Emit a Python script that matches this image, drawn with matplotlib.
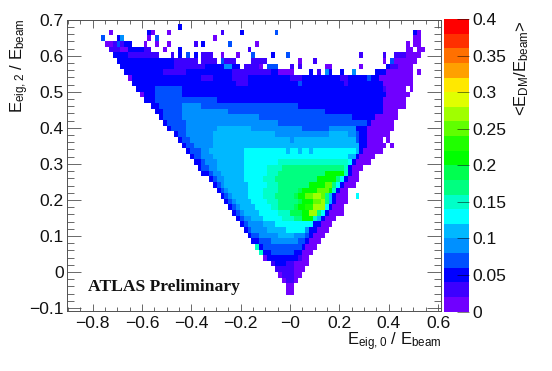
import numpy as np
import matplotlib
matplotlib.use("Agg")
import matplotlib.pyplot as plt
from matplotlib.colors import ListedColormap, BoundaryNorm
from matplotlib.ticker import MultipleLocator

plt.rcParams['font.family'] = ['Liberation Sans', 'DejaVu Sans']
plt.rcParams['mathtext.fontset'] = 'custom'
plt.rcParams['mathtext.rm'] = 'Liberation Sans'
plt.rcParams['mathtext.default'] = 'regular'

# colour levels of the z axis, 0.02 wide each
level_colors = ['#7000ff', '#3c00ff', '#0000ff', '#0050ff', '#0090ff', '#00b8ff', '#00ffff',
                '#00ffc8', '#00ff80', '#00ff50', '#00ff00', '#20ff00', '#60ff00', '#a0ff00',
                '#e0ff00', '#ffe800', '#ffa000', '#ff7000', '#ff3000', '#ff0000']
bin_width = 2 / 128
z_ticks = [0, 0.05, 0.1, 0.15, 0.2, 0.25, 0.3, 0.35, 0.4]
z_labels = ['0', '0.05', '0.1', '0.15', '0.2', '0.25', '0.3', '0.35', '0.4']
x_ticks = [-0.8, -0.6, -0.4, -0.2, 0, 0.2, 0.4, 0.6]
x_labels = ['\u22120.8', '\u22120.6', '\u22120.4', '\u22120.2', '\u22120', '0.2', '0.4', '0.6']
y_ticks = [-0.1, 0, 0.1, 0.2, 0.3, 0.4, 0.5, 0.6, 0.7]
y_labels = ['\u22120.1', '0', '0.1', '0.2', '0.3', '0.4', '0.5', '0.6', '0.7']

# one entry per y bin, bottom up: first bin, then level:end_bin runs (-1 is an empty bin)
row_first = -4
rows = [
    "-1 0:1",
    "-1 0:1",
    "-2 0:-1 1:1 0:2",
    "-3 0:-2 1:1 0:3",
    "-4 1:1 0:4",
    "-5 1:-4 2:-1 1:1 0:5",
    "-7 0:-6 2:2 1:3 0:5",
    "-8 7:-7 2:-5 3:1 2:3 0:6",
    "-9 7:-8 2:-7 3:3 2:4 0:7",
    "-10 2:-8 3:-5 4:2 3:4 2:5 0:8",
    "-11 2:-10 3:-8 4:-3 5:1 4:4 3:5 2:6 0:9",
    "-12 2:-11 3:-10 4:-6 5:-1 6:4 4:5 2:7 0:10",
    "-13 2:-12 3:-11 4:-7 5:-4 6:6 2:8 0:11",
    "-14 2:-13 3:-12 4:-10 5:-7 6:-2 7:1 8:3 10:6 7:7 5:8 2:9 0:12",
    "-15 2:-14 3:-13 4:-12 5:-8 6:-3 7:0 9:3 10:5 13:7 8:8 6:9 2:10 0:14",
    "-16 2:-15 3:-14 4:-13 5:-9 6:-5 7:-3 8:1 9:2 10:4 11:6 13:9 6:10 2:11 0:14",
    "-17 2:-16 3:-15 4:-14 5:-10 6:-6 7:-3 8:2 9:3 10:6 12:8 13:9 8:10 5:11 2:12 0:15",
    "-18 2:-17 3:-16 4:-15 5:-11 6:-7 7:-4 8:1 9:2 10:4 12:6 13:8 12:9 8:10 5:11 2:12 0:15 -1:17 6:18",
    "-19 2:-18 3:-17 4:-16 5:-11 6:-7 7:-3 8:2 9:3 10:7 12:10 10:11 7:12 2:13 0:15",
    "-20 2:-19 3:-18 4:-17 5:-11 6:-6 7:-3 8:5 10:9 12:11 8:12 6:13 2:14 0:17",
    "-21 2:-20 3:-19 4:-17 5:-12 6:-7 7:-4 8:7 10:12 8:13 6:14 2:15 0:18",
    "-23 2:-21 3:-20 4:-18 5:-12 6:-6 7:-3 8:9 10:14 7:15 2:16 0:18",
    "-24 2:-23 3:-21 4:-19 5:-12 6:-6 7:-2 8:14 7:15 2:16 0:19",
    "-25 2:-23 3:-22 4:-19 5:-12 6:-3 7:15 6:16 2:17 0:21",
    "-26 2:-25 3:-23 4:-20 5:-12 6:15 5:17 2:18 0:22",
    "-27 2:-26 3:-23 4:-21 5:-12 6:-1 5:0 6:2 5:3 6:5 5:6 6:17 5:18 2:19 0:24",
    "-28 2:-27 3:-25 4:-20 5:18 2:20 0:25 -1:26 0:27",
    "-29 2:-28 3:-26 4:-20 5:0 4:1 5:17 3:18 2:20 0:24 -1:25 0:26",
    "-30 2:-29 3:-27 4:-20 5:-4 4:10 5:15 4:17 3:18 2:20 0:26",
    "-32 2:-31 3:-27 4:-19 5:-10 4:3 3:10 4:17 2:20 0:27",
    "-33 2:-32 3:-27 4:-3 3:12 3:20 2:21 0:27",
    "-34 2:-33 3:-28 4:-8 3:16 2:22 0:28",
    "-35 2:-33 3:-28 4:-16 3:9 2:24 0:28",
    "-36 2:-34 3:-28 4:-23 3:2 2:24 0:30",
    "-38 2:-35 3:-19 2:24 0:30",
    "-39 0:-38 2:-35 3:-28 2:25 0:31",
    "-40 2:-35 3:-28 2:24 1:25 0:30 -1:31 0:32",
    "-41 2:-14 1:-11 2:2 3:3 2:14 1:15 2:24 0:32",
    "-42 0:-41 2:-23 1:-20 2:-15 1:-11 2:0 1:3 2:13 1:15 2:20 3:21 2:23 0:32",
    "-43 2:-33 1:-27 2:-15 1:-5 2:-3 0:1 -1:5 2:6 -1:7 1:8 -1:9 4:10 2:11 -1:13 2:14 -1:16 4:17 -1:22 2:25 0:32 -1:33 0:34",
    "-44 2:-30 1:-22 2:-17 4:-15 2:-13 -1:-12 1:-8 0:-7 -1:-6 3:-3 -1:0 1:1 -1:2 1:3 -1:9 0:11 -1:18 0:19 -1:25 2:26 1:28 0:32",
    "-45 2:-30 1:-24 -1:-23 1:-19 -1:-18 3:-17 1:-14 -1:-10 1:-6 -1:2 0:3 -1:6 1:7 -1:24 0:25 -1:26 3:27 0:33",
    "-46 2:-42 1:-34 -1:-31 1:-30 -1:-29 2:-28 -1:-27 3:-26 -1:-25 2:-24 -1:-23 1:-20 -1:-18 0:-17 -1:-14 0:-13 -1:-10 3:-9 -1:-5 2:-4 -1:-1 3:0 -1:18 1:19 -1:24 1:25 -1:27 1:30 0:34",
    "-47 1:-44 0:-42 2:-38 1:-36 -1:-33 0:-32 -1:-29 2:-28 -1:-11 1:-10 -1:30 0:32 -1:33 0:35",
    "-48 0:-46 1:-45 3:-44 1:-43 2:-41 -1:-38 0:-37 -1:-35 0:-34 -1:-32 0:-31 -1:-25 1:-24 -1:-23 2:-22 -1:-16 3:-15 -1:-9 0:-8 -1:30 0:31 -1:32 0:34",
    "-49 3:-48 -1:-45 2:-44 4:-43 -1:-37 0:-36 -1:-35 3:-34 -1:-20 0:-19 -1:32 0:34",
    "-47 0:-46 -1:-37 2:-36 0:-35 -1:-32 0:-31 -1:-18 1:-17 -1:-13 2:-12 -1:-4 3:-3 -1:32 2:33 0:34",
    "-29 2:-28",
]

x_first, x_last = -52, 38
grid = np.full((len(rows), x_last - x_first), np.nan)
for r, row in enumerate(rows):
    parts = row.split()
    start = int(parts[0])
    for run in parts[1:]:
        level, end = run.split(':')
        level, end = int(level), int(end)
        if level >= 0:
            grid[r, start - x_first:end - x_first] = (level + 0.5) * 0.02
        start = end

x_edges = np.arange(x_first, x_last + 1) * bin_width
y_edges = np.arange(row_first, row_first + len(rows) + 1) * bin_width

W, H = 552, 371
fig = plt.figure(figsize=(W / 100, H / 100), dpi=100)
ax = fig.add_axes([67 / W, (H - 311) / H, (441 - 67) / W, (311 - 19.7) / H])
cax = fig.add_axes([443.5 / W, (H - 311.5) / H, 25.5 / W, (311.5 - 19) / H])

cmap = ListedColormap(level_colors)
norm = BoundaryNorm(np.linspace(0, 0.4, 21), 20)
ax.pcolormesh(x_edges, y_edges, np.ma.masked_invalid(grid), cmap=cmap, norm=norm, linewidth=0, rasterized=True)
ax.set_xlim(-0.904, 0.612)
ax.set_ylim(-0.108, 0.7)

spine_col = '#505050'
ax.set_xticks(x_ticks)
ax.set_xticklabels(x_labels)
ax.set_yticks(y_ticks)
ax.set_yticklabels(y_labels)
ax.xaxis.set_minor_locator(MultipleLocator(0.05))
ax.yaxis.set_minor_locator(MultipleLocator(0.02))
ax.tick_params(axis='x', which='major', direction='in', top=True, length=5.4, width=0.6, color=spine_col,
               labelsize=12.6, pad=3.5, labelcolor='#111111')
ax.tick_params(axis='x', which='minor', direction='in', top=True, length=2.7, width=0.6, color=spine_col)
ax.tick_params(axis='y', which='major', direction='in', right=True, length=9.8, width=0.6, color=spine_col,
               labelsize=12.6, pad=2.5, labelcolor='#111111')
ax.tick_params(axis='y', which='minor', direction='in', right=True, length=4.9, width=0.6, color=spine_col)
for s in ax.spines.values():
    s.set_linewidth(0.7)
    s.set_color(spine_col)

# z scale drawn as its own little axes
z_edges = np.linspace(0, 0.4, 21)
cax.pcolormesh([0, 1], z_edges, ((z_edges[:-1] + z_edges[1:]) / 2).reshape(-1, 1), cmap=cmap, norm=norm)
cax.set_xticks([])
cax.set_yticks(z_ticks)
cax.set_yticklabels(z_labels)
cax.yaxis.tick_right()
cax.tick_params(axis='y', direction='in', length=9, width=0.7, color='#00000080', labelsize=12.6, pad=2.5,
                labelcolor='#111111')
for s in cax.spines.values():
    s.set_visible(False)

fig.text(88 / W, 1 - 287 / H, 'ATLAS Preliminary', family='Liberation Serif', fontweight='bold', fontsize=12.6,
         va='center', ha='left', color='#111111')
fig.text(442 / W, 1 - 342 / H, r'$E_{eig,0}$ / $E_{beam}$', fontsize=12, ha='right', va='center', color='#111111')
fig.text(20 / W, 1 - 18 / H, r'$E_{eig,2}$ / $E_{beam}$', fontsize=12, rotation=90, ha='center', va='top', color='#111111')
fig.text(522 / W, 1 - 20 / H, r'<$E_{DM}$/$E_{beam}$>', fontsize=12, rotation=90, ha='center', va='top', color='#111111')

fig.savefig('out.png', dpi=100)
